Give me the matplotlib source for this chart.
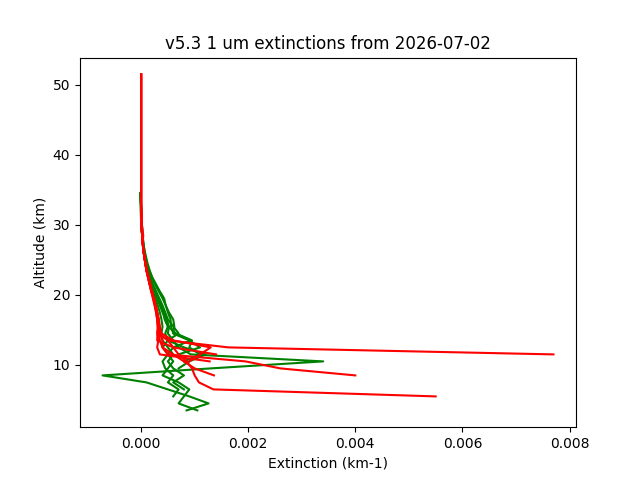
import numpy as np
import matplotlib
matplotlib.use("Agg")
import matplotlib.pyplot as plt

nan = np.nan

# altitude grid (km), bottom to top
alt_green = [3.5, 4.5, 5.5, 6.5, 7.5, 8.5, 9.5, 10.5, 11.5, 12.5, 13.5, 14.5, 15.5,
             16.5, 17.5, 18.5, 19.5, 20.5, 21.5, 22.5, 23.5, 24.5, 25.5, 26.5, 27.5,
             28.5, 29.5, 30.5, 32.5, 34.5]
alt_red = alt_green + [40.5, 51.5]

# green profiles (km-1)
green_profiles = [
    [0.00085, 0.00126, 0.0009, 0.0005, 0.0001, -0.00072, 0.0013, 0.0034, 0.00093, 0.0007,
     0.0006, 0.0005, 0.00052, 0.00048, 0.00042, 0.00036, 0.0003, 0.00025, 0.0002, 0.00016,
     0.00012, 0.00009, 0.00007, 0.00005, 0.00003, 0.00002, 0.00001, 0.0, -0.00001, -0.00001],
    [0.00105, 0.0007, 0.0008, 0.0009, 0.0007, 0.0004, 0.0005, 0.0006, 0.0005, 0.0006,
     0.00093, 0.0006, 0.00062, 0.0006, 0.00052, 0.00046, 0.00043, 0.00035, 0.00028, 0.00021,
     0.00016, 0.00012, 0.00009, 0.00006, 0.00004, 0.00003, 0.00002, 0.00001, 0.0, -0.00001],
    [nan, nan, 0.0006, 0.0007, 0.0005, 0.0006, 0.00045, 0.0004, 0.0005, 0.0004,
     0.0005, 0.0007, 0.0006, 0.0005, 0.00045, 0.0004, 0.00034, 0.00028, 0.00022, 0.00017,
     0.00013, 0.0001, 0.00007, 0.00005, 0.00004, 0.00002, 0.00001, 0.0, 0.0, -0.00001],
    [nan, nan, nan, nan, nan, nan, 0.0007, 0.0009, 0.0012, 0.0008,
     0.0005, 0.00045, 0.0005, 0.00045, 0.0004, 0.00035, 0.0003, 0.00026, 0.0002, 0.00015,
     0.00011, 0.00008, 0.00006, 0.00004, 0.00003, 0.00002, 0.00001, 0.0, 0.0, -0.00001],
    [nan, nan, nan, nan, nan, nan, nan, nan, 0.0007, 0.0011,
     0.0009, 0.0006, 0.00056, 0.00055, 0.0005, 0.00046, 0.0004, 0.00033, 0.00026, 0.0002,
     0.00015, 0.00011, 0.00008, 0.00006, 0.00004, 0.00003, 0.00002, 0.00001, 0.0, -0.00001],
    [nan, nan, nan, 0.0008, 0.0006, 0.0008, 0.0006, 0.0005, 0.0006, 0.0005,
     0.0004, 0.00038, 0.0004, 0.00038, 0.00035, 0.00031, 0.00027, 0.00022, 0.00018, 0.00014,
     0.00011, 0.00008, 0.00006, 0.00004, 0.00003, 0.00002, 0.00001, 0.0, 0.0, -0.00001],
    [nan, nan, nan, nan, nan, nan, nan, 0.0008, 0.0011, 0.0009,
     0.00095, 0.00065, 0.0005, 0.00044, 0.00042, 0.00038, 0.00033, 0.00027, 0.00021, 0.00016,
     0.00012, 0.00009, 0.00007, 0.00005, 0.00003, 0.00002, 0.00001, 0.0, 0.0, -0.00001],
]

# red profiles (km-1)
red_profiles = [
    [nan, nan, nan, nan, nan, nan, nan, nan, 0.0077, 0.00163,
     0.0005, 0.00032, 0.00033, 0.00032, 0.0003, 0.00027, 0.00024, 0.0002, 0.00017, 0.00014,
     0.0001, 0.00008, 0.00006, 0.00004, 0.00003, 0.00002, 0.00002, 0.00001, 0.0, 0.0,
     0.0, 0.0],
    [nan, nan, nan, nan, nan, 0.004, 0.0026, 0.00195, 0.0005, 0.0004,
     0.0004, 0.00035, 0.00034, 0.00033, 0.0003, 0.00027, 0.00023, 0.0002, 0.00016, 0.00013,
     0.0001, 0.00008, 0.00006, 0.00004, 0.00003, 0.00002, 0.00001, 0.00001, 0.0, 0.0,
     0.0, 0.0],
    [nan, nan, 0.0055, 0.00135, 0.00108, 0.001, 0.00095, 0.00085, 0.0007, 0.0006,
     0.0005, 0.00034, 0.00031, 0.0003, 0.00028, 0.00026, 0.00023, 0.00019, 0.00016, 0.00013,
     0.0001, 0.00008, 0.00006, 0.00004, 0.00003, 0.00004, 0.00002, 0.00001, 0.0, 0.0,
     0.0, 0.0],
    [nan, nan, nan, nan, nan, nan, nan, 0.00128, 0.00035, 0.0003,
     0.00032, 0.0003, 0.00031, 0.0003, 0.00028, 0.00025, 0.00022, 0.00019, 0.00016, 0.00013,
     0.0001, 0.00008, 0.00006, 0.00004, 0.00003, 0.00002, 0.00001, 0.00001, 0.0, 0.0,
     0.0, 0.0],
    [nan, nan, nan, nan, nan, 0.00136, 0.001, 0.0008, 0.0006, 0.0004,
     0.00035, 0.00033, 0.00034, 0.00032, 0.0003, 0.00027, 0.00024, 0.0002, 0.00017, 0.00014,
     0.00011, 0.00008, 0.00006, 0.00004, 0.00003, 0.00002, 0.00001, 0.00001, 0.0, 0.0,
     0.0, 0.0],
    [nan, nan, nan, nan, nan, nan, nan, nan, 0.0014, 0.0006,
     0.0003, 0.00031, 0.00032, 0.00031, 0.00029, 0.00026, 0.00023, 0.00019, 0.00016, 0.00013,
     0.0001, 0.00008, 0.00006, 0.00004, 0.00003, 0.00002, 0.00001, 0.00001, 0.0, 0.0,
     0.0, 0.0],
    [nan, nan, nan, nan, nan, nan, nan, 0.0009, 0.0011, 0.0013,
     0.0006, 0.00038, 0.00035, 0.00033, 0.0003, 0.00027, 0.00024, 0.0002, 0.00017, 0.00014,
     0.00011, 0.00008, 0.00006, 0.00004, 0.00003, 0.00002, 0.00001, 0.00001, 0.0, 0.0,
     0.0, 0.0],
]

fig, ax = plt.subplots(figsize=(6.4, 4.8), dpi=100)
for prof in green_profiles:
    ax.plot(prof, alt_green, color="green")
for prof in red_profiles:
    ax.plot(prof, alt_red, color="red")

ax.set_title("v5.3 1 um extinctions from 2026-07-02")
ax.set_xlabel("Extinction (km-1)")
ax.set_ylabel("Altitude (km)")

fig.savefig("out.png", dpi=100)
